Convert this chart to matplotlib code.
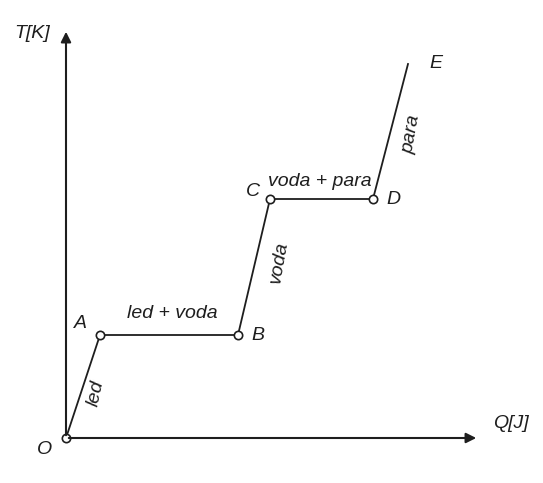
import matplotlib
matplotlib.use("Agg")
import matplotlib.pyplot as plt

# heat added Q and temperature T (arbitrary units)
points = ["O", "A", "B", "C", "D", "E"]
Q = [0, 34, 172, 204, 307, 342]
T = [0, 103, 103, 239, 239, 374]
phases = ["led", "led + voda", "voda", "voda + para", "para"]

plt.rcParams['font.family'] = ['Liberation Sans', 'DejaVu Sans']

fig = plt.figure(figsize=(5.43, 4.83), dpi=100)
ax = fig.add_axes([0, 0, 1, 1])
ax.set_xlim(-66, 477)
ax.set_ylim(-45, 438)
ax.axis("off")

ink = "#1e1e1e"

# axes with arrows
ax.annotate("", xy=(413, 0), xytext=(0, 0),
            arrowprops=dict(arrowstyle="-|>", color=ink, lw=1.5, mutation_scale=15))
ax.annotate("", xy=(0, 409), xytext=(0, 0),
            arrowprops=dict(arrowstyle="-|>", color=ink, lw=1.5, mutation_scale=15))
ax.text(-34, 405, "T[K]", fontsize=14, style="italic", ha="center", va="center", color=ink)
ax.text(445, 15, "Q[J]", fontsize=14, style="italic", ha="center", va="center", color=ink)

# curve
ax.plot(Q, T, color=ink, lw=1.3)
ax.plot(Q[:5], T[:5], "o", ms=6, mfc="white", mec=ink, mew=1.2, ls="none")

# point labels
offs = {"O": (-21, -11), "A": (-20, 12), "B": (20, -1), "C": (-17, 7),
        "D": (20, 0), "E": (28, 0)}
for p, q, t in zip(points, Q, T):
    dx, dy = offs[p]
    ax.text(q + dx, t + dy, p, fontsize=14, style="italic", ha="center", va="center", color=ink)

# phase labels
ax.text(30, 45, phases[0], fontsize=14, style="italic", rotation=78, ha="center", va="center", color=ink)
ax.text(106, 124, phases[1], fontsize=14, style="italic", ha="center", va="center", color=ink)
ax.text(213, 176, phases[2], fontsize=14, style="italic", rotation=80, ha="center", va="center", color=ink)
ax.text(254, 257, phases[3], fontsize=14, style="italic", ha="center", va="center", color=ink)
ax.text(346, 304, phases[4], fontsize=14, style="italic", rotation=80, ha="center", va="center", color=ink)

fig.savefig("out.png", dpi=100, facecolor="white")
